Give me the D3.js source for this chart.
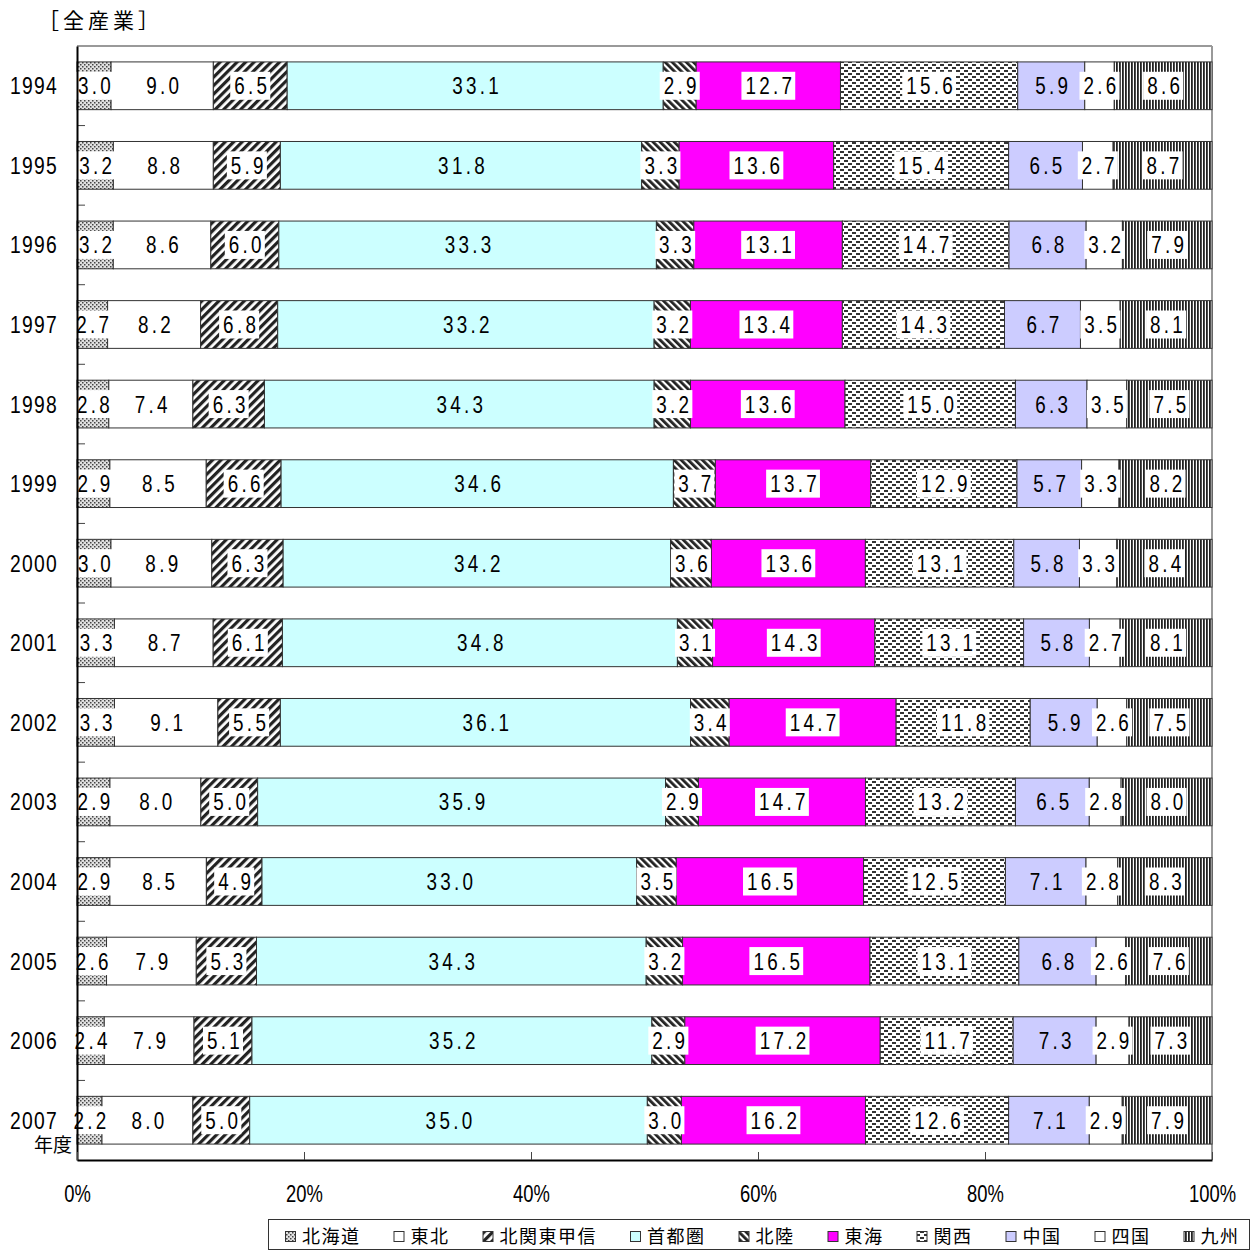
<!DOCTYPE html>
<html>
<head>
<meta charset="utf-8">
<script src="https://cdn.jsdelivr.net/npm/d3@7"></script>
<style>
body { margin: 0; background: #fff; }
svg { display: block; }
</style>
</head>
<body>
<div id="chart"></div>
<script>
// data (shares in %)
var years = ['1994','1995','1996','1997','1998','1999','2000','2001','2002','2003','2004','2005','2006','2007'];
var regions = ['北海道','東北','北関東甲信','首都圏','北陸','東海','関西','中国','四国','九州'];
var hokkaido = [3.0,3.2,3.2,2.7,2.8,2.9,3.0,3.3,3.3,2.9,2.9,2.6,2.4,2.2];
var tohoku   = [9.0,8.8,8.6,8.2,7.4,8.5,8.9,8.7,9.1,8.0,8.5,7.9,7.9,8.0];
var kantoKoshin = [6.5,5.9,6.0,6.8,6.3,6.6,6.3,6.1,5.5,5.0,4.9,5.3,5.1,5.0];
var shutoken = [33.1,31.8,33.3,33.2,34.3,34.6,34.2,34.8,36.1,35.9,33.0,34.3,35.2,35.0];
var hokuriku = [2.9,3.3,3.3,3.2,3.2,3.7,3.6,3.1,3.4,2.9,3.5,3.2,2.9,3.0];
var tokai    = [12.7,13.6,13.1,13.4,13.6,13.7,13.6,14.3,14.7,14.7,16.5,16.5,17.2,16.2];
var kansai   = [15.6,15.4,14.7,14.3,15.0,12.9,13.1,13.1,11.8,13.2,12.5,13.1,11.7,12.6];
var chugoku  = [5.9,6.5,6.8,6.7,6.3,5.7,5.8,5.8,5.9,6.5,7.1,6.8,7.3,7.1];
var shikoku  = [2.6,2.7,3.2,3.5,3.5,3.3,3.3,2.7,2.6,2.8,2.8,2.6,2.9,2.9];
var kyushu   = [8.6,8.7,7.9,8.1,7.5,8.2,8.4,8.1,7.5,8.0,8.3,7.6,7.3,7.9];
var xTicks = [0,0.2,0.4,0.6,0.8,1];

var series = [hokkaido,tohoku,kantoKoshin,shutoken,hokuriku,tokai,kansai,chugoku,shikoku,kyushu];

var W = 1252, H = 1251;
var numFont = '"Liberation Sans", Arial, sans-serif';
var jpFont = '"Noto Sans CJK JP", sans-serif';
var svg = d3.select('#chart').append('svg').attr('width', W).attr('height', H);

// fills / patterns
var defs = svg.append('defs');
var p;
p = defs.append('pattern').attr('id','pHokkaido').attr('patternUnits','userSpaceOnUse').attr('width',4).attr('height',4);
p.append('rect').attr('width',4).attr('height',4).attr('fill','#e0e0e0');
p.append('rect').attr('x',0).attr('y',0).attr('width',1.5).attr('height',1.5).attr('fill','#444');
p.append('rect').attr('x',2).attr('y',2).attr('width',1.5).attr('height',1.5).attr('fill','#444');

p = defs.append('pattern').attr('id','pKanto').attr('patternUnits','userSpaceOnUse').attr('width',6).attr('height',6)
	.attr('patternTransform','rotate(45)');
p.append('rect').attr('width',6).attr('height',6).attr('fill','#fff');
p.append('rect').attr('width',3.2).attr('height',6).attr('fill','#222');

p = defs.append('pattern').attr('id','pHokuriku').attr('patternUnits','userSpaceOnUse').attr('width',5).attr('height',5)
	.attr('patternTransform','rotate(-45)');
p.append('rect').attr('width',5).attr('height',5).attr('fill','#fff');
p.append('rect').attr('width',2.8).attr('height',5).attr('fill','#222');

p = defs.append('pattern').attr('id','pKansai').attr('patternUnits','userSpaceOnUse').attr('width',8).attr('height',6);
p.append('rect').attr('width',8).attr('height',6).attr('fill','#fff');
p.append('rect').attr('x',0).attr('y',1).attr('width',4).attr('height',2).attr('fill','#333');
p.append('rect').attr('x',4).attr('y',4).attr('width',4).attr('height',2).attr('fill','#333');

p = defs.append('pattern').attr('id','pKyushu').attr('patternUnits','userSpaceOnUse').attr('width',3).attr('height',4);
p.append('rect').attr('width',3).attr('height',4).attr('fill','#fff');
p.append('rect').attr('width',1.8).attr('height',4).attr('fill','#222');

var fills = ['url(#pHokkaido)','#ffffff','url(#pKanto)','#ccffff','url(#pHokuriku)','#ff00ff','url(#pKansai)','#ccccff','#ffffff','url(#pKyushu)'];
var labelBox = [true,true,true,false,true,true,true,false,true,true];

var x = d3.scaleLinear().domain([0,1]).range([77,1212]);
var y = d3.scaleBand().domain(years).range([46,1160]).paddingInner(0.4).paddingOuter(0.2);

// build rows for stack
var rows = years.map(function(yr, i) {
	var r = {year: yr};
	regions.forEach(function(k, j) { r[k] = series[j][i]; });
	return r;
});
var stacked = d3.stack().keys(regions).offset(d3.stackOffsetExpand)(rows);

// frame
svg.append('line').attr('x1',77).attr('x2',1212).attr('y1',46).attr('y2',46).attr('stroke','#999').attr('stroke-width',2);
svg.append('line').attr('x1',1212).attr('x2',1212).attr('y1',46).attr('y2',1160).attr('stroke','#999').attr('stroke-width',2);

// band boundary ticks on the left
var step = y.step();
svg.append('g').selectAll('line')
	.data(years.slice(1))
	.enter().append('line')
	.attr('x1',77).attr('x2',85)
	.attr('y1', function(d){ return y(d) - (step - y.bandwidth())/2; })
	.attr('y2', function(d){ return y(d) - (step - y.bandwidth())/2; })
	.attr('stroke','#444');

// bars
var barG = svg.append('g');
stacked.forEach(function(s, j) {
	barG.append('g').selectAll('rect')
		.data(s)
		.enter().append('rect')
		.attr('x', function(d){ return x(d[0]); })
		.attr('width', function(d){ return x(d[1]) - x(d[0]); })
		.attr('y', function(d){ return y(d.data.year); })
		.attr('height', y.bandwidth())
		.attr('fill', fills[j])
		.attr('stroke','#333')
		.attr('stroke-width',1);
});

// value labels (narrow, tall digits like the original)
var labG = svg.append('g');
stacked.forEach(function(s, j) {
	s.forEach(function(d) {
		var cx = (x(d[0]) + x(d[1])) / 2;
		var cy = y(d.data.year) + y.bandwidth()/2;
		var g = labG.append('g');
		var tg = g.append('g').attr('transform', 'translate(' + (cx + 2) + ',' + (cy + 8.5) + ') scale(0.82,1)');
		var t = tg.append('text')
			.attr('text-anchor','middle')
			.attr('font-family', numFont)
			.attr('font-size','23px')
			.attr('letter-spacing','4px')
			.attr('fill','#000')
			.text(d.data[regions[j]].toFixed(1));
		if (labelBox[j]) {
			var w = t.node().getBBox().width * 0.82;
			g.insert('rect',':first-child')
				.attr('x', cx - w/2 - 2)
				.attr('width', w + 4)
				.attr('y', cy - 14)
				.attr('height', 28)
				.attr('fill','#fff');
		}
	});
});

// axes
var yAxis = svg.append('g').attr('transform','translate(77,0)')
	.call(d3.axisLeft(y).tickSize(0).tickPadding(19));
yAxis.select('.domain').attr('stroke','#000').attr('stroke-width',2);
yAxis.selectAll('.tick text')
	.attr('x', null).attr('dy', null)
	.attr('transform','translate(-19,8.5) scale(0.84,1)')
	.attr('text-anchor','end')
	.attr('font-family', numFont)
	.attr('font-size','23px').attr('letter-spacing','1.5px').attr('fill','#000');

var xAxis = svg.append('g').attr('transform','translate(0,1160)')
	.call(d3.axisBottom(x).tickValues(xTicks).tickFormat(d3.format('.0%')).tickSizeInner(-8).tickSizeOuter(0).tickPadding(24));
xAxis.select('.domain').attr('stroke','#000').attr('stroke-width',2);
xAxis.selectAll('.tick line').attr('stroke','#444');
xAxis.selectAll('.tick text')
	.attr('y', null).attr('dy', null)
	.attr('transform','translate(0,42) scale(0.8,1)')
	.attr('font-family', numFont)
	.attr('font-size','23px').attr('fill','#000');

// title and axis caption
svg.append('text').attr('x',38).attr('y',28)
	.attr('font-family', jpFont).attr('font-size','21px').attr('letter-spacing','4px')
	.text('［全産業］');
svg.append('text').attr('x',72).attr('y',1152).attr('text-anchor','end')
	.attr('font-family', jpFont).attr('font-size','19px')
	.text('年度');

// legend
var leg = svg.append('g');
leg.append('rect').attr('x',268.5).attr('y',1219.5).attr('width',981).attr('height',30)
	.attr('fill','#fff').attr('stroke','#333');
var lx = 285;
regions.forEach(function(name, j) {
	leg.append('rect').attr('x', lx + 0.5).attr('y', 1231.5).attr('width', 10).attr('height', 10)
		.attr('fill', fills[j]).attr('stroke','#333');
	var t = leg.append('text').attr('x', lx + 17).attr('y', 1243)
		.attr('font-family', jpFont).attr('font-size','18px').attr('letter-spacing','1.5px')
		.text(name);
	lx = lx + 17 + t.node().getComputedTextLength() + 33;
});
</script>
</body>
</html>
